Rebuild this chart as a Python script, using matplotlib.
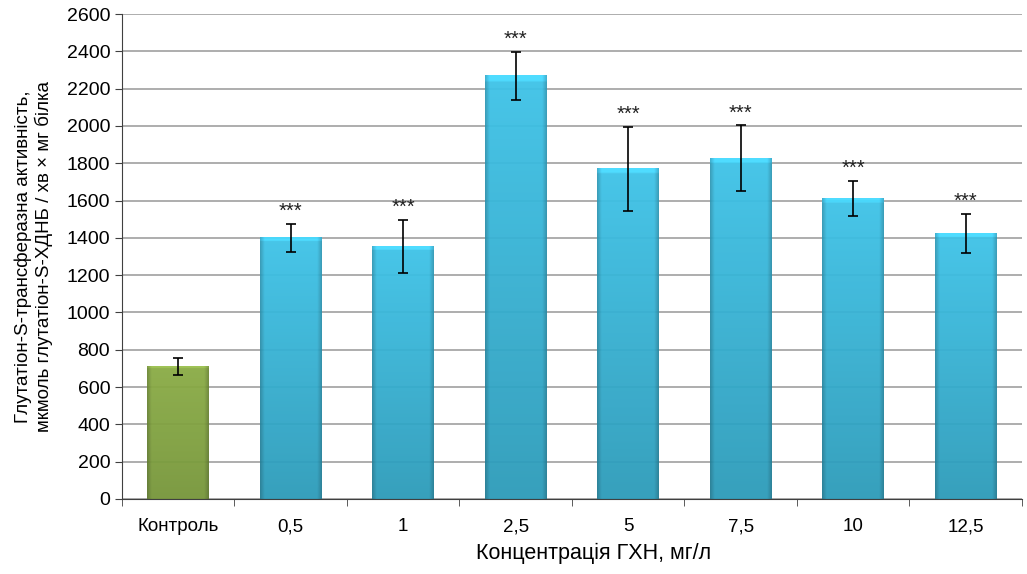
import numpy as np
import matplotlib.pyplot as plt
from matplotlib.colors import to_rgb

plt.rcParams['font.family'] = ['Liberation Sans', 'DejaVu Sans']

categories = ['Контроль', '0,5', '1', '2,5', '5', '7,5', '10', '12,5']
values = [710, 1400, 1355, 2268, 1770, 1826, 1612, 1425]
errors = [45, 75, 142, 129, 225, 177, 95, 105]
stars = ['', '***', '***', '***', '***', '***', '***', '***']


def bar_gradient(top_col, bot_col, n=200):
    top = np.array(to_rgb(top_col))
    bot = np.array(to_rgb(bot_col))
    t = np.linspace(0, 1, n)[:, None, None]
    img = top * (1 - t) + bot * t
    # darker side edges
    s = np.linspace(-1, 1, n)
    edge = 1 - 0.22 * np.clip((np.abs(s) - 0.85) / 0.15, 0, 1)
    img = img * edge[None, :, None]
    # slightly lighter top rim
    img[:3] = np.clip(img[:3] * 1.12, 0, 1)
    return img


fig = plt.figure(figsize=(10.27, 5.74), dpi=100)
ax = fig.add_axes([0.1188, 0.1307, 0.8762, 0.8449])

x = np.arange(len(categories))
w = 0.55
for i in range(len(categories)):
    if i == 0:
        img = bar_gradient('#8aac45', '#76963a')
    else:
        img = bar_gradient('#3ec3e8', '#2c9bb9')
    ax.imshow(img, extent=(x[i] - w / 2, x[i] + w / 2, 0, values[i]),
              aspect='auto', origin='upper', zorder=2, alpha=0.95,
              interpolation='bilinear')

ax.errorbar(x, values, yerr=errors, fmt='none', ecolor='black',
            elinewidth=1.2, capsize=3.5, capthick=1.2, zorder=4)

for i in range(len(categories)):
    if stars[i]:
        ax.annotate(stars[i], (x[i], values[i] + errors[i]),
                    xytext=(0, 2), textcoords='offset points',
                    ha='center', va='bottom', fontsize=14.5,
                    color='#222222', zorder=5)

ax.set_xlim(-0.5, len(categories) - 0.5)
ax.set_ylim(0, 2600)
ax.set_yticks(np.arange(0, 2601, 200))
ax.yaxis.grid(True, color='#a0a0a0', linewidth=1.2, zorder=0)
ax.set_axisbelow(True)

ax.set_xticks(x)
ax.set_xticklabels(categories, fontsize=13.5)
ax.set_xticks(np.arange(-0.5, len(categories)), minor=True)
ax.tick_params(axis='x', which='major', length=0, pad=14)
ax.tick_params(axis='x', which='minor', length=5, color='#404040')
ax.tick_params(axis='y', labelsize=14, length=5, color='#404040')

for side in ['top', 'right']:
    ax.spines[side].set_visible(False)
ax.spines['left'].set_color('#404040')
ax.spines['bottom'].set_color('#404040')

ax.set_xlabel('Концентрація ГХН, мг/л', fontsize=15.5, labelpad=8)
ax.xaxis.set_label_coords(0.524, -0.09)
ax.set_ylabel('Глутатіон-S-трансферазна активність,\nмкмоль глутатіон-S-ХДНБ / хв × мг білка',
              fontsize=13.5, labelpad=10)

fig.savefig('out.png', dpi=100)
